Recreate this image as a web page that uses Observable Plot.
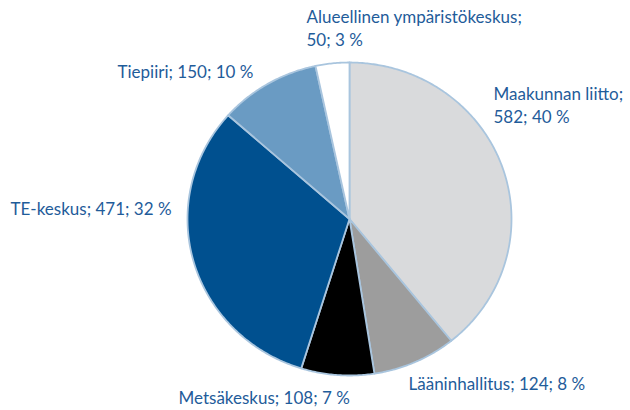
<!DOCTYPE html>
<html>
<head>
<meta charset="utf-8">
<script src="https://cdn.jsdelivr.net/npm/d3@7"></script>
<script src="https://cdn.jsdelivr.net/npm/@observablehq/plot@0.6"></script>
<style>
  html, body { margin: 0; padding: 0; background: #fff; }
</style>
</head>
<body>
<div id="chart"></div>
<script>
// Data (clockwise from 12 o'clock)
const categories = ["Maakunnan liitto", "Lääninhallitus", "Metsäkeskus", "TE-keskus", "Tiepiiri", "Alueellinen ympäristökeskus"];
const counts = [582, 124, 108, 471, 150, 50];
const percents = [40, 8, 7, 32, 10, 3];
const labelTexts = [
  "Maakunnan liitto;\n582; 40 %",
  "Lääninhallitus; 124; 8 %",
  "Metsäkeskus; 108; 7 %",
  "TE-keskus; 471; 32 %",
  "Tiepiiri; 150; 10 %",
  "Alueellinen ympäristökeskus;\n50; 3 %"
];

// Styling / layout
const colors = ["#d9dadc", "#9d9d9d", "#000000", "#00508f", "#6a9bc3", "#ffffff"];
const labelOffsets = [ // [dx, dy] of last-line baseline from frame top-left
  [493, 122], [408, 389], [178, 403], [10, 214], [117, 77], [306, 45]
];
const W = 630, H = 410, cx = 349, cy = 218.5, rx = 162, ry = 156.5;

const table = categories.map((c, i) => ({category: c, count: counts[i], pct: percents[i], label: labelTexts[i], color: colors[i]}));
const arcs = d3.pie().sort(null).value(d => d.count)(table);

function slicePoints(a) {
  const pts = [{x: 0, y: 0}];
  const n = Math.max(8, Math.ceil((a.endAngle - a.startAngle) / 0.01));
  for (let k = 0; k <= n; k++) {
    const t = a.startAngle + (a.endAngle - a.startAngle) * k / n;
    pts.push({x: Math.sin(t), y: Math.cos(t)});
  }
  pts.push({x: 0, y: 0});
  return pts;
}

const marks = [];
arcs.forEach(a => {
  marks.push(Plot.line(slicePoints(a), {
    x: "x", y: "y", fill: a.data.color, stroke: "#a9c5de", strokeWidth: 1.8, strokeLinejoin: "round"
  }));
});
table.forEach((d, i) => {
  marks.push(Plot.text([d], {
    text: "label", frameAnchor: "top-left", dx: labelOffsets[i][0], dy: labelOffsets[i][1],
    textAnchor: "start", lineAnchor: "bottom", lineHeight: 1.3,
    fill: "#1f5c9a", fontSize: 17
  }));
});

const chart = Plot.plot({
  width: W, height: H,
  margin: 0,
  style: {fontFamily: "Lato, sans-serif", background: "#fff"},
  x: {domain: [-cx / rx, (W - cx) / rx], range: [0, W], axis: null},
  y: {domain: [(cy - H) / ry, cy / ry], range: [H, 0], axis: null},
  marks
});
document.getElementById("chart").append(chart);
</script>
</body>
</html>
